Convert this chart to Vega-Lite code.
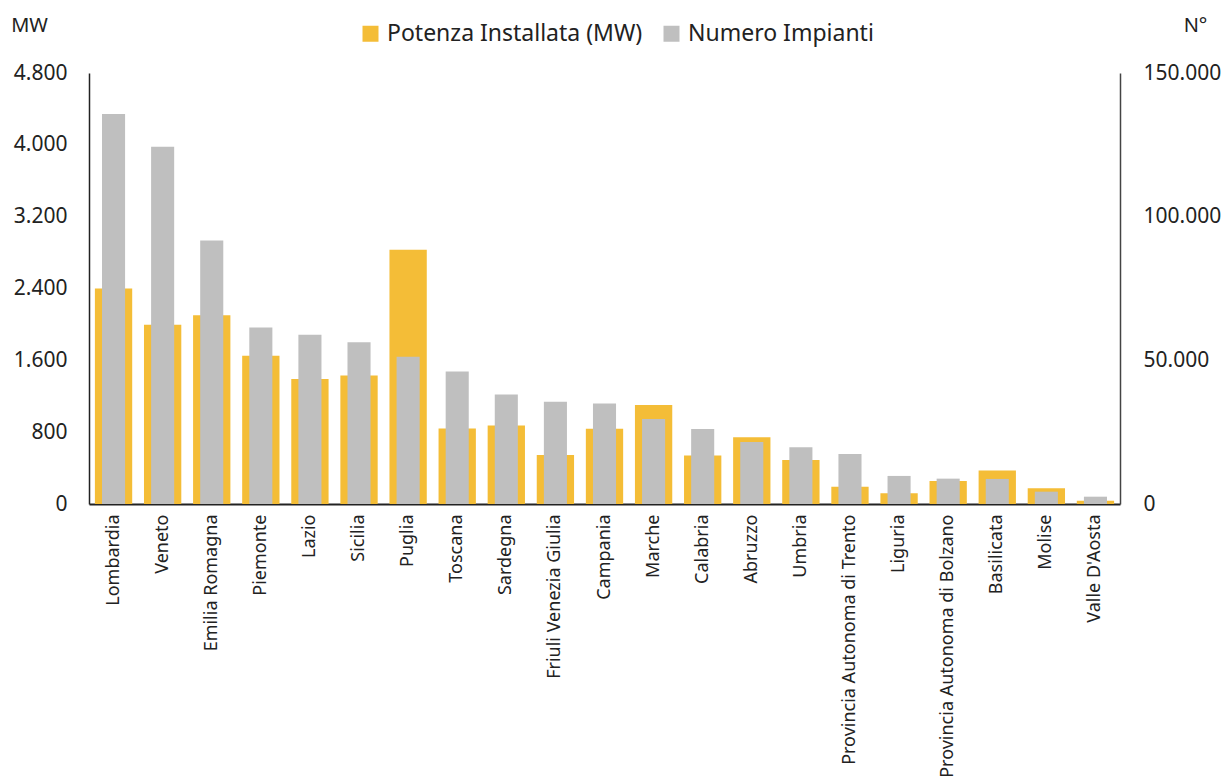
{
  "$schema": "https://vega.github.io/schema/vega-lite/v6.json",
  "autosize": {"type": "none"},
  "width": 1031,
  "height": 431,
  "padding": {"left": 89, "top": 73, "right": 109, "bottom": 276},
  "background": "white",
  "config": {
    "locale": {"number": {"decimal": ",", "thousands": ".", "grouping": [3], "currency": ["€", ""]}},
    "view": {"stroke": null},
    "font": "Noto Sans"
  },
  "data": {
    "values": [
      {"regione": "Lombardia", "mw": 2400, "n": 135700},
      {"regione": "Veneto", "mw": 1995, "n": 124300},
      {"regione": "Emilia Romagna", "mw": 2102, "n": 91740},
      {"regione": "Piemonte", "mw": 1652, "n": 61400},
      {"regione": "Lazio", "mw": 1392, "n": 58900},
      {"regione": "Sicilia", "mw": 1432, "n": 56270},
      {"regione": "Puglia", "mw": 2832, "n": 51280},
      {"regione": "Toscana", "mw": 841, "n": 46150},
      {"regione": "Sardegna", "mw": 874, "n": 38130},
      {"regione": "Friuli Venezia Giulia", "mw": 547, "n": 35580},
      {"regione": "Campania", "mw": 839, "n": 34965},
      {"regione": "Marche", "mw": 1102, "n": 29615},
      {"regione": "Calabria", "mw": 540, "n": 26110},
      {"regione": "Abruzzo", "mw": 742, "n": 21560},
      {"regione": "Umbria", "mw": 490, "n": 19790},
      {"regione": "Provincia Autonoma di Trento", "mw": 193, "n": 17442},
      {"regione": "Liguria", "mw": 119, "n": 9767},
      {"regione": "Provincia Autonoma di Bolzano", "mw": 257, "n": 8826},
      {"regione": "Basilicata", "mw": 372, "n": 8721},
      {"regione": "Molise", "mw": 175, "n": 4291},
      {"regione": "Valle D'Aosta", "mw": 37, "n": 2547}
    ]
  },
  "encoding": {
    "x": {
      "field": "regione",
      "type": "nominal",
      "sort": null,
      "scale": {"paddingInner": 0, "paddingOuter": 0},
      "axis": {
        "title": null,
        "labelAngle": -90,
        "labelAlign": "right",
        "labelBaseline": "middle",
        "labelFontSize": 18,
        "labelColor": "#222222",
        "labelPadding": 10,
        "ticks": false,
        "domainColor": "#222222",
        "domainWidth": 2,
        "labelLimit": 400
      }
    }
  },
  "layer": [
    {
      "mark": {"type": "bar", "width": {"band": 0.76}},
      "encoding": {
        "y": {
          "field": "mw",
          "type": "quantitative",
          "scale": {"domain": [0, 4800], "nice": false},
          "axis": {
            "orient": "left",
            "values": [0, 800, 1600, 2400, 3200, 4000, 4800],
            "format": ",d",
            "grid": false,
            "ticks": false,
            "labelPadding": 22,
            "labelFontSize": 21,
            "labelColor": "#222222",
            "domainColor": "#222222",
            "domainWidth": 1.5,
            "title": "MW",
            "titleAngle": 0,
            "titleX": -60,
            "titleY": -48,
            "titleAlign": "center",
            "titleBaseline": "middle",
            "titleFontSize": 20,
            "titleFontWeight": "normal",
            "titleColor": "#222222"
          }
        },
        "color": {
          "datum": "Potenza Installata (MW)",
          "scale": {"domain": ["Potenza Installata (MW)", "Numero Impianti"], "range": ["#F4BD37", "#BFBFBF"]},
          "legend": {
            "title": null,
            "orient": "none",
            "direction": "horizontal",
            "legendX": 270,
            "legendY": -51,
            "symbolType": "square",
            "symbolSize": 256,
            "symbolStrokeWidth": 0,
            "labelFontSize": 23,
            "labelLimit": 500,
            "labelColor": "#222222",
            "columnPadding": 17,
            "labelOffset": 5
          }
        }
      }
    },
    {
      "mark": {"type": "bar", "width": {"band": 0.47}, "color": "#BFBFBF"},
      "encoding": {
        "y": {
          "field": "n",
          "type": "quantitative",
          "scale": {"domain": [0, 150000], "nice": false},
          "axis": {
            "orient": "right",
            "values": [0, 50000, 100000, 150000],
            "format": ",d",
            "grid": false,
            "ticks": false,
            "labelPadding": 23,
            "labelFontSize": 21,
            "labelColor": "#222222",
            "domainColor": "#444444",
            "domainWidth": 1.5,
            "title": "N°",
            "titleAngle": 0,
            "titleX": 75,
            "titleY": -48,
            "titleAlign": "center",
            "titleBaseline": "middle",
            "titleFontSize": 20,
            "titleFontWeight": "normal",
            "titleColor": "#222222"
          }
        },
        "color": {"datum": "Numero Impianti"}
      }
    }
  ],
  "resolve": {"scale": {"y": "independent"}}
}
